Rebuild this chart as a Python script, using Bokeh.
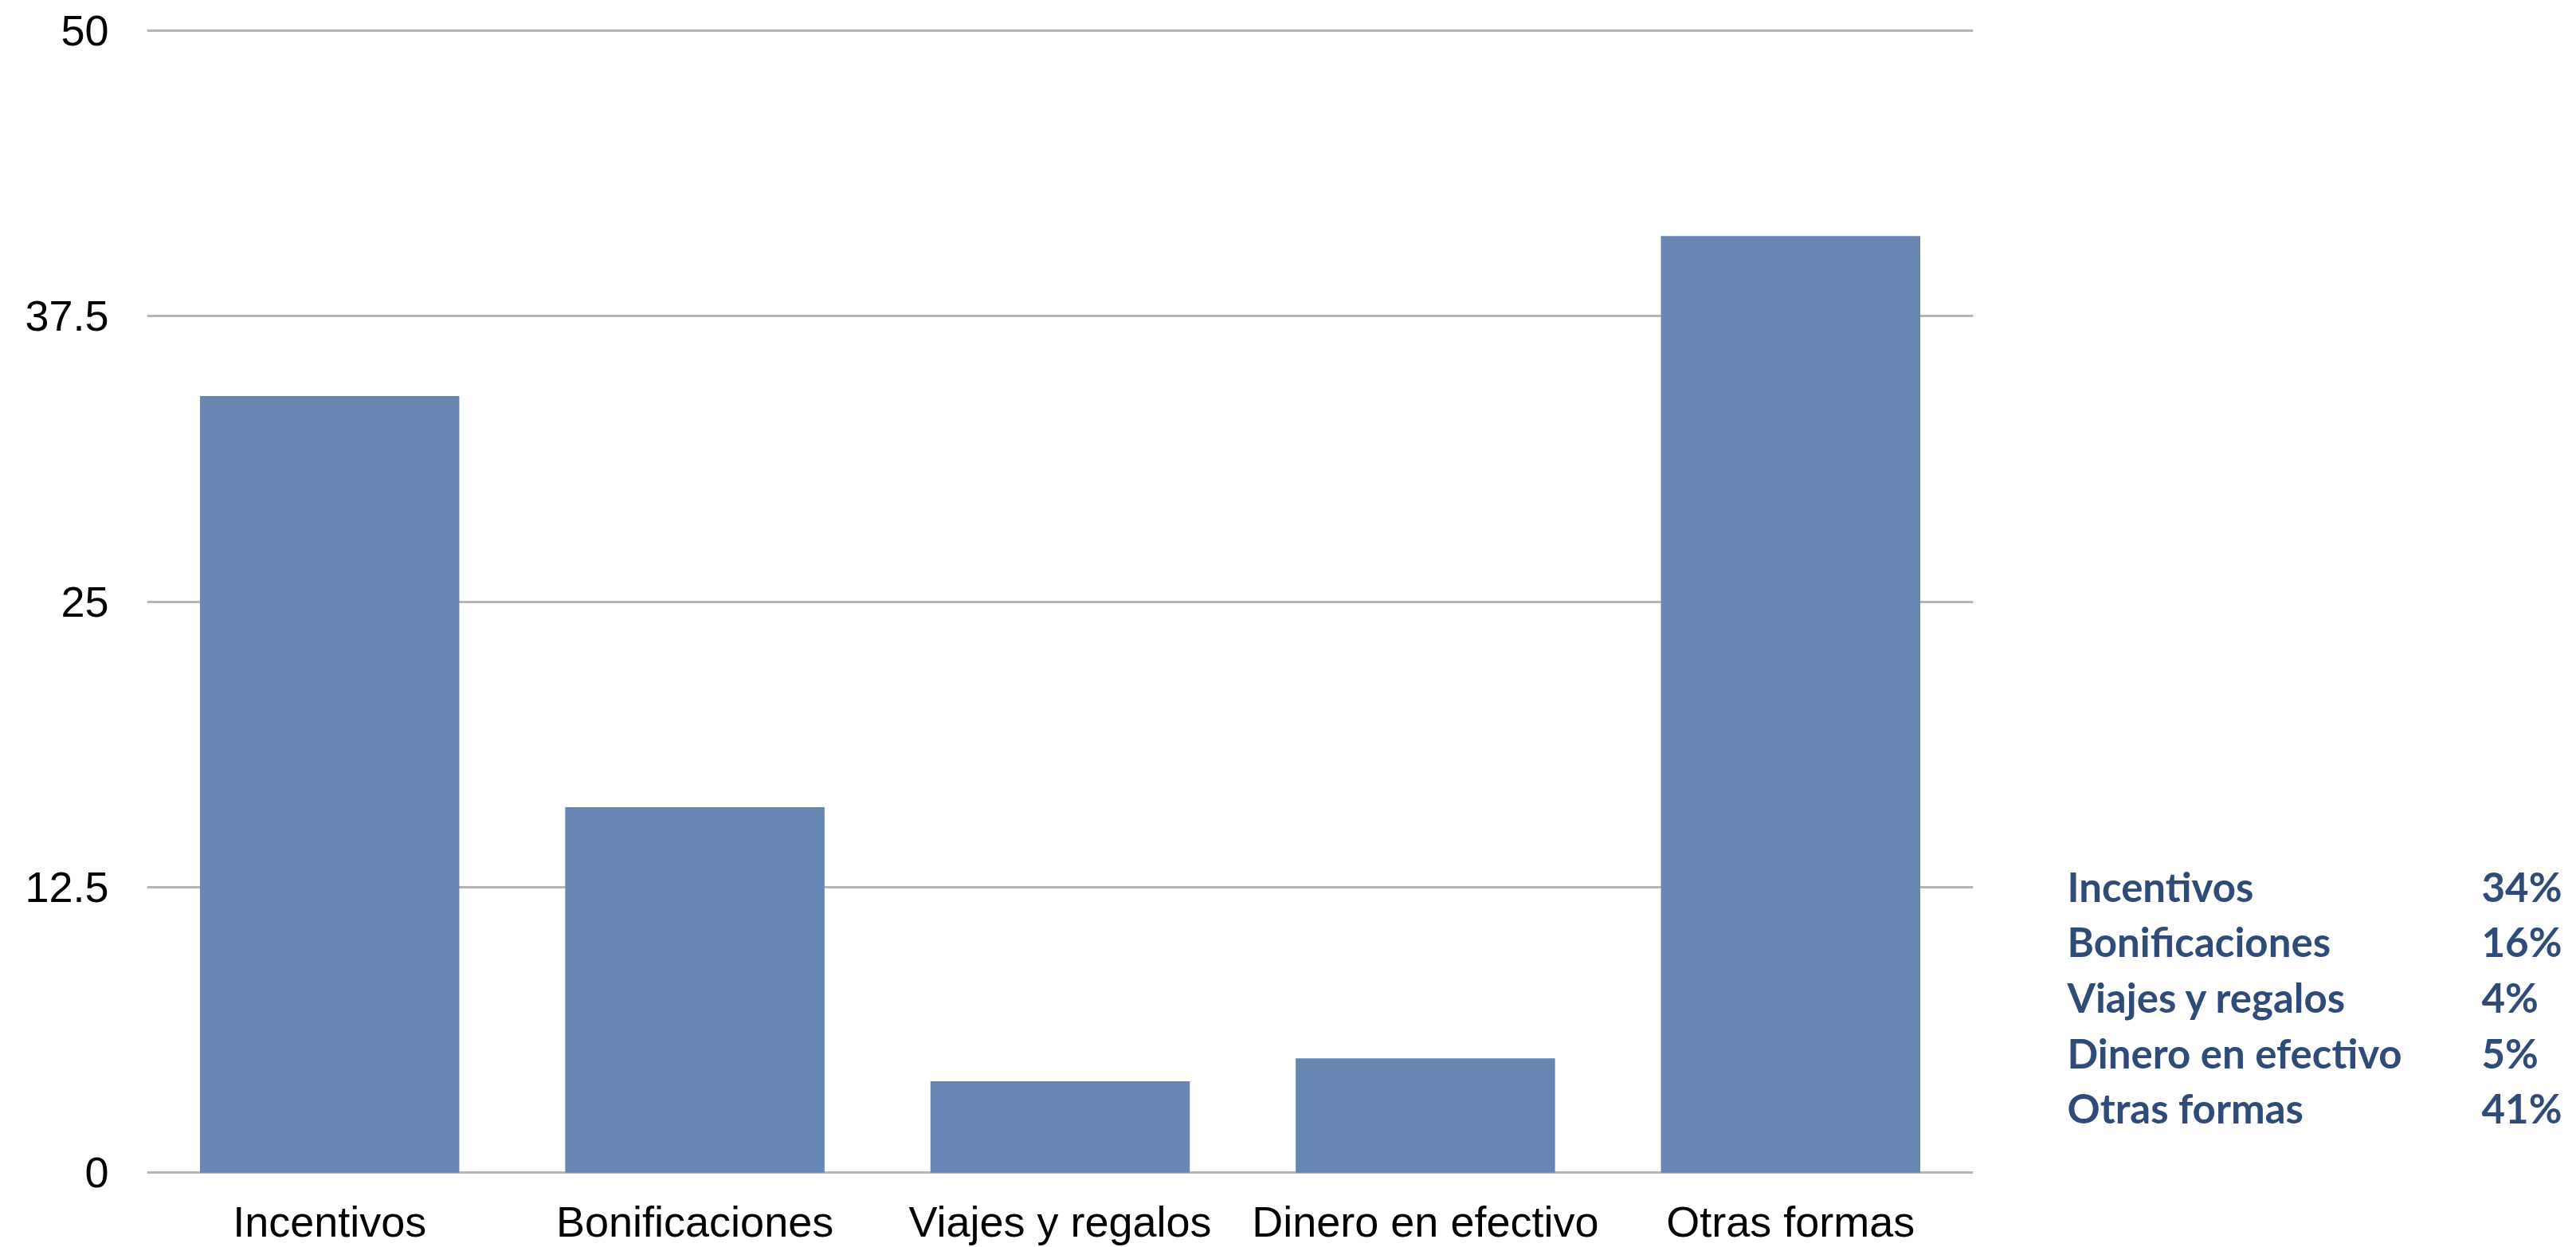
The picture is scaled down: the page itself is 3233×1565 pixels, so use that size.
from bokeh.plotting import figure
from bokeh.layouts import row
from bokeh.models import FactorRange, Range1d, FixedTicker, ColumnDataSource
from bokeh.core.properties import value
from bokeh.embed import file_html
from bokeh.resources import INLINE

# Forms of compensation and their share (%)
categories = ["Incentivos", "Bonificaciones", "Viajes y regalos", "Dinero en efectivo", "Otras formas"]
shares = [34, 16, 4, 5, 41]
y_ticks = [0, 12.5, 25, 37.5, 50]
y_tick_labels = ["0", "12.5", "25", "37.5", "50"]

BAR_COLOR = "#6786b3"
GRID_COLOR = "#b5b5b5"
TABLE_COLOR = "#2f4b77"

# small pad so the 0 and 50 grid lines are not clipped by the frame
PAD = 0.1
BORDER_TOP = 35
BORDER_BOTTOM = 84
HEIGHT = 1565

# --- bar chart -------------------------------------------------------------
p = figure(
    x_range=FactorRange(*categories, range_padding=0),
    y_range=Range1d(-PAD, 50 + PAD),
    width=2520, height=HEIGHT,
    output_backend="svg", toolbar_location=None,
    min_border_left=184, min_border_right=44,
    min_border_top=BORDER_TOP, min_border_bottom=BORDER_BOTTOM,
)
p.vbar(x=categories, top=shares, width=0.71, fill_color=BAR_COLOR, line_color=None)

p.outline_line_color = None
p.background_fill_color = "white"
p.border_fill_color = "white"
p.xgrid.grid_line_color = None
p.ygrid.grid_line_color = GRID_COLOR
p.ygrid.grid_line_width = 3
p.ygrid.level = "underlay"

p.yaxis.ticker = FixedTicker(ticks=y_ticks)
p.ygrid.ticker = FixedTicker(ticks=y_ticks)
p.yaxis.major_label_overrides = dict(zip(y_ticks, y_tick_labels))
p.yaxis.axis_line_color = None
p.yaxis.major_tick_line_color = None
p.yaxis.minor_tick_line_color = None
p.yaxis.major_label_standoff = 42
p.yaxis.major_label_text_font = "Liberation Sans"
p.yaxis.major_label_text_font_size = "54px"
p.yaxis.major_label_text_color = "black"

p.xaxis.axis_line_color = None
p.xaxis.major_tick_line_color = None
p.xaxis.minor_tick_line_color = None
p.xaxis.major_label_standoff = 22
p.xaxis.major_label_text_font = "Liberation Sans"
p.xaxis.major_label_text_font_size = "54px"
p.xaxis.major_label_text_color = "black"

# --- share table on the right ---------------------------------------------
row_first = 1117
row_pitch = 70
table = ColumnDataSource(dict(
    name=categories,
    pct=[f"{v}%" for v in shares],
    y=[row_first + i * row_pitch for i in range(len(categories))],
    xn=[74] * len(categories),
    xp=[594] * len(categories),
))

# frames in a row are aligned, so map the table's y range onto the chart frame
t = figure(
    x_range=Range1d(0, 713), y_range=Range1d(HEIGHT - BORDER_BOTTOM, BORDER_TOP),
    width=713, height=HEIGHT,
    output_backend="svg", toolbar_location=None,
    min_border_left=0, min_border_right=0,
    min_border_top=BORDER_TOP, min_border_bottom=BORDER_BOTTOM,
)
t.axis.visible = False
t.grid.visible = False
t.outline_line_color = None
for col, txt in (("xn", "name"), ("xp", "pct")):
    t.text(x=col, y="y", text=txt, source=table,
           text_font=value("Lato"), text_font_style="bold",
           text_font_size="51px", text_color=TABLE_COLOR,
           text_baseline="middle", text_align="left")

layout = row(p, t, spacing=0)
open("out.html", "w").write(file_html(layout, INLINE))
